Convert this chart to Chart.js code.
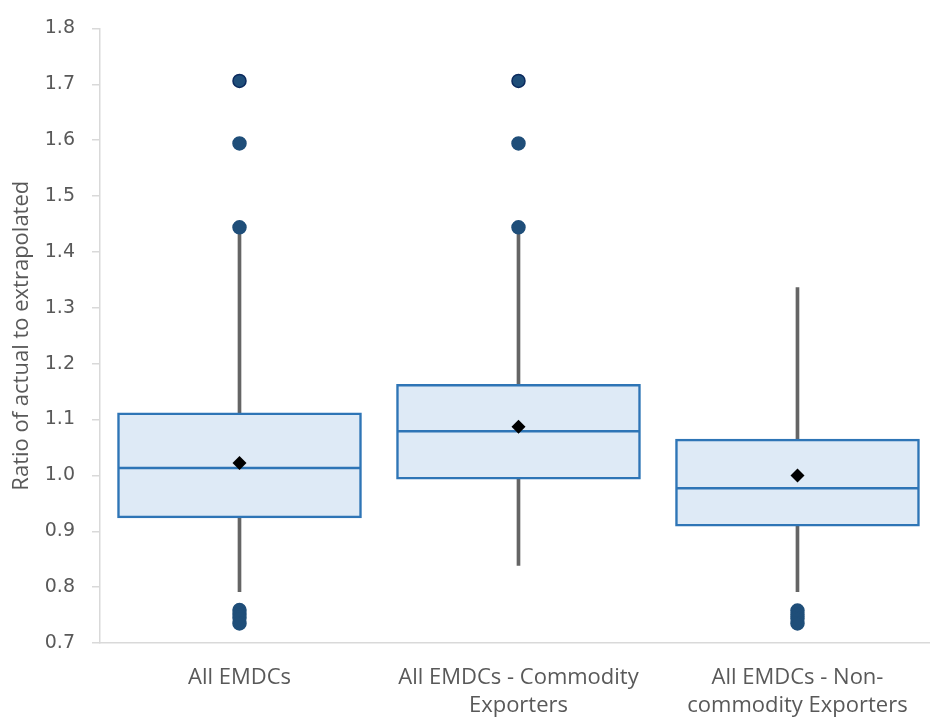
<!DOCTYPE html>
<html>
<head>
<meta charset="utf-8">
<script src="https://cdn.jsdelivr.net/npm/chart.js@4.4.1/dist/chart.umd.min.js"></script>
<style>
  html, body { margin: 0; padding: 0; background: #fff; overflow: hidden; }
  canvas { display: block; }
</style>
</head>
<body>
<canvas id="box" width="930" height="719" style="width:930px;height:719px"></canvas>
<script>
// data
const categories = [
  ["All EMDCs"],
  ["All EMDCs - Commodity", "Exporters"],
  ["All EMDCs - Non-", "commodity Exporters"],
];
const whiskerLow = [0.792, 0.839, 0.792];
const whiskerHigh = [1.436, 1.436, 1.336];
const q1 = [0.924, 0.993, 0.909];
const q3 = [1.112, 1.163, 1.065];
const medians = [1.013, 1.079, 0.977];
const means = [1.022, 1.087, 1.0];
const outliers = [
  [1.706, 1.594, 1.444, 0.759, 0.752, 0.745, 0.735],
  [1.706, 1.594, 1.444],
  [0.758, 0.751, 0.744, 0.735],
];
const yMin = 0.7, yMax = 1.8, yStep = 0.1;

const grey = "#595959", axisGrey = "#d9d9d9";
const sans = "'Open Sans', sans-serif";
const pts = (arr) => arr.map((v, i) => ({ x: i, y: v }));
const outlierPts = [];
outliers.forEach((list, i) => list.forEach((v) => outlierPts.push({ x: i, y: v })));

new Chart(document.getElementById("box"), {
  data: {
    datasets: [
      {
        type: "bar",
        data: whiskerLow.map((v, i) => ({ x: i, y: [v, whiskerHigh[i]] })),
        backgroundColor: "#656565",
        barThickness: 3,
        grouped: false,
        order: 5,
      },
      {
        type: "bar",
        data: q1.map((v, i) => ({ x: i, y: [v, q3[i]] })),
        backgroundColor: "#deeaf6",
        borderColor: "#2e75b6",
        borderWidth: 2.5,
        borderSkipped: false,
        barThickness: 244,
        grouped: false,
        order: 4,
      },
      {
        type: "scatter",
        data: pts(medians),
        pointStyle: "line",
        pointRadius: 121,
        borderColor: "#2e75b6",
        borderWidth: 2.5,
        order: 3,
      },
      {
        type: "scatter",
        data: pts(means),
        pointStyle: "rectRot",
        pointRadius: 7,
        backgroundColor: "#000",
        borderColor: "#000",
        borderWidth: 0,
        order: 1,
      },
      {
        type: "scatter",
        data: outlierPts,
        pointRadius: 6.5,
        backgroundColor: "#1f4e79",
        borderColor: (c) => (c.raw && c.raw.y > 1.7 ? "#0b2a5e" : "#1f4e79"),
        borderWidth: 1.5,
        order: 2,
      },
    ],
  },
  options: {
    responsive: false,
    animation: false,
    events: [],
    devicePixelRatio: 1,
    layout: { autoPadding: false, padding: { top: 24, right: 0, bottom: 0, left: 0 } },
    plugins: { legend: { display: false }, tooltip: { enabled: false } },
    scales: {
      x: {
        type: "linear",
        offset: false,
        min: -0.5,
        max: 2.475,
        afterBuildTicks: (s) => {
          s.ticks = categories.map((c, i) => ({ value: i }));
        },
        afterFit: (s) => {
          s.height = 76;
        },
        grid: { display: false, offset: false },
        border: { display: true, color: axisGrey, width: 1.5 },
        ticks: {
          autoSkip: false,
          maxRotation: 0,
          padding: 12,
          color: grey,
          font: { family: sans, size: 22, lineHeight: 1.3 },
          callback: (v) => categories[v],
        },
      },
      y: {
        min: yMin,
        max: yMax,
        afterFit: (s) => {
          s.width = 100;
        },
        grid: { drawOnChartArea: false, drawTicks: true, tickLength: 8, color: axisGrey, lineWidth: 1.5 },
        border: { display: true, color: axisGrey, width: 1.5 },
        ticks: {
          stepSize: yStep,
          padding: 17,
          color: grey,
          font: { family: "'DejaVu Sans', sans-serif", size: 19 },
          callback: (v) => v.toFixed(1),
        },
        title: {
          display: true,
          text: "Ratio of actual to extrapolated",
          color: grey,
          padding: { top: 9, bottom: 0 },
          font: { family: sans, size: 22 },
        },
      },
    },
  },
});
</script>
</body>
</html>
